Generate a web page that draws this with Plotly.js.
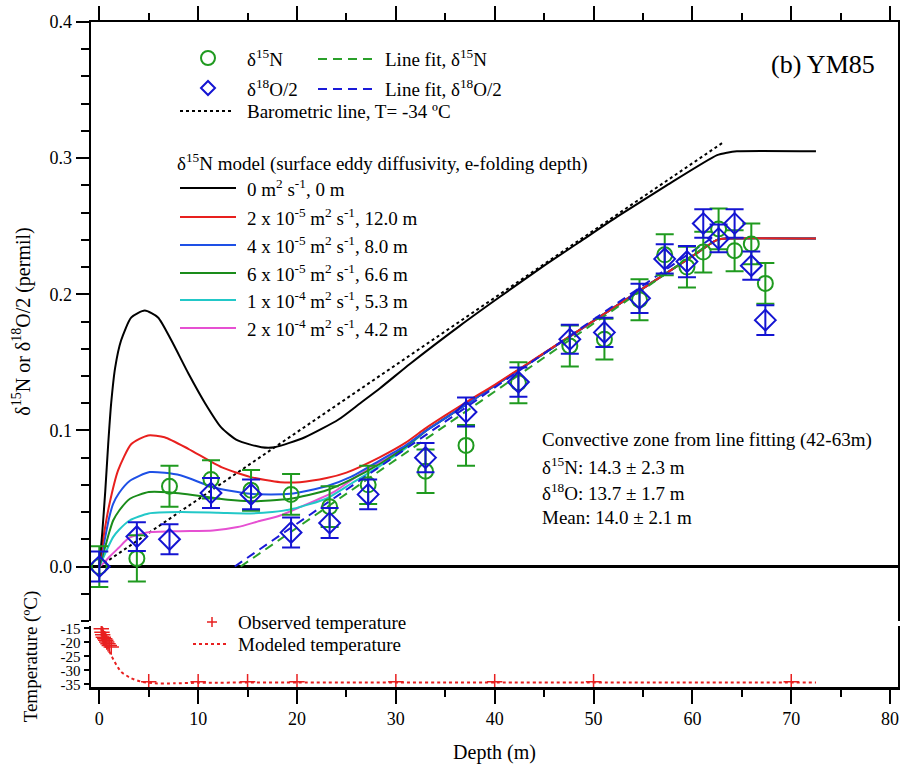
<!DOCTYPE html>
<html>
<head>
<meta charset="utf-8">
<script src="https://cdn.plot.ly/plotly-3.0.1.min.js"></script>
<style>html,body{margin:0;padding:0;background:#fff;}</style>
</head>
<body>
<div id="chart" style="width:900px;height:764px;"></div>
<script>
// ---------------- DATA ----------------
// Observed δ15N (permil)
const depthN15 = [0, 3.8, 7.1, 11.3, 15.35, 19.4, 23.3, 27.2, 33.0, 37.1, 42.4, 47.6, 51.1, 54.65, 57.2, 59.45, 61.1, 62.65, 64.27, 65.96, 67.38];
const valN15   = [0.0, 0.006, 0.059, 0.064, 0.056, 0.053, 0.044, 0.060, 0.070, 0.089, 0.135, 0.162, 0.167, 0.196, 0.229, 0.220, 0.231, 0.248, 0.232, 0.237, 0.208];
const errN15   = [0.015, 0.017, 0.015, 0.014, 0.015, 0.015, 0.015, 0.014, 0.016, 0.015, 0.015, 0.015, 0.015, 0.015, 0.015, 0.015, 0.015, 0.015, 0.015, 0.015, 0.015];
// Observed δ18O/2 (permil)
const depthO18 = [0, 3.8, 7.1, 11.3, 15.35, 19.4, 23.3, 27.2, 33.0, 37.1, 42.4, 47.6, 51.1, 54.65, 57.2, 59.45, 61.1, 62.65, 64.27, 65.96, 67.38];
const valO18   = [0.0, 0.022, 0.020, 0.054, 0.053, 0.025, 0.032, 0.053, 0.080, 0.1135, 0.1355, 0.167, 0.172, 0.197, 0.226, 0.224, 0.252, 0.241, 0.252, 0.221, 0.181];
const errO18   = [0.011, 0.0105, 0.011, 0.011, 0.011, 0.011, 0.011, 0.011, 0.0107, 0.0107, 0.0107, 0.0107, 0.0107, 0.0107, 0.0107, 0.0115, 0.0104, 0.0102, 0.0104, 0.0104, 0.011];

// Line fits
const fitDepthN15 = [14.3, 62.0];
const fitValN15   = [0.0, 0.2385];
const fitDepthO18 = [13.7, 62.0];
const fitValO18   = [0.0, 0.2415];

// Barometric line T = -34 °C
const baroDepth = [0, 63];
const baroVal   = [0, 0.311];

// δ15N model curves
const mDepth0 = [0, 0.3, 0.6, 0.9, 1.2, 1.6, 2.2, 3.24, 4.6, 5.94, 7.3, 9.0, 10.7, 12.35, 14.0, 16.4, 17.75, 20.8, 24.2, 26.4, 28.4, 31.45, 36.5, 40.5, 45, 48.5, 52.4, 57.4, 62.5, 63.5, 64.5, 72.5];
const mVal0   = [0, 0.025, 0.055, 0.09, 0.12, 0.146, 0.166, 0.183, 0.188, 0.183, 0.166, 0.142, 0.120, 0.102, 0.0926, 0.0877, 0.0877, 0.095, 0.108, 0.120, 0.131, 0.149, 0.177, 0.198, 0.221, 0.238, 0.257, 0.280, 0.3022, 0.304, 0.305, 0.305];

const mDepth1 = [0, 0.5, 1, 1.9, 3.24, 4.93, 6.6, 9, 12.35, 15.3, 18.3, 20.3, 23, 25, 28.4, 31, 33, 35, 37.5, 40, 45, 50, 55, 60, 62.5, 63.5, 72.5];
const mVal1   = [0, 0.025, 0.045, 0.0706, 0.090, 0.0963, 0.095, 0.0865, 0.073, 0.0657, 0.062, 0.062, 0.065, 0.069, 0.0804, 0.091, 0.1015, 0.111, 0.1225, 0.1335, 0.157, 0.1804, 0.2043, 0.228, 0.240, 0.241, 0.241];

const mDepth2 = [0, 0.5, 1, 1.4, 2, 3.1, 5.1, 8.2, 11.5, 15.3, 19.3, 23, 25.5, 28.4, 31, 33, 35, 37.5, 40, 45, 50, 55, 60, 62.5, 63.5, 72.5];
const mVal2   = [0, 0.018, 0.036, 0.046, 0.054, 0.063, 0.0694, 0.067, 0.0583, 0.0534, 0.0534, 0.059, 0.066, 0.078, 0.089, 0.0995, 0.109, 0.121, 0.1328, 0.1566, 0.1804, 0.2043, 0.228, 0.240, 0.241, 0.241];

const mDepth3 = [0, 0.5, 1, 1.4, 2, 3.1, 5, 7, 10, 13, 15.3, 19.3, 23, 25.5, 28.4, 31, 33, 35, 37.5, 40, 45, 50, 55, 60, 62.5, 63.5, 72.5];
const mVal3   = [0, 0.012, 0.025, 0.0338, 0.041, 0.0498, 0.0547, 0.0545, 0.052, 0.049, 0.048, 0.0498, 0.056, 0.064, 0.0755, 0.088, 0.0995, 0.109, 0.121, 0.1328, 0.1566, 0.1804, 0.2043, 0.228, 0.240, 0.241, 0.241];

const mDepth4 = [0, 0.5, 1, 1.4, 2, 3.1, 5, 8.2, 12, 15.3, 17.5, 19.6, 23, 25.5, 28.4, 31, 33, 35, 37.5, 40, 45, 50, 55, 60, 62.5, 63.5, 72.5];
const mVal4   = [0, 0.008, 0.016, 0.0216, 0.027, 0.034, 0.039, 0.040, 0.0395, 0.039, 0.040, 0.0424, 0.050, 0.061, 0.074, 0.087, 0.0995, 0.109, 0.121, 0.1328, 0.1566, 0.1804, 0.2043, 0.228, 0.240, 0.241, 0.241];

const mDepth5 = [0, 0.5, 1, 2, 3, 4.8, 8, 11.5, 14, 16, 18.3, 20.3, 23.7, 26, 28.4, 31, 33, 35, 37.5, 40, 45, 50, 55, 60, 62.5, 63.5, 72.5];
const mVal5   = [0, 0.003, 0.007, 0.014, 0.021, 0.025, 0.026, 0.0265, 0.029, 0.033, 0.0375, 0.0436, 0.0547, 0.066, 0.077, 0.088, 0.0995, 0.109, 0.121, 0.1328, 0.1566, 0.1804, 0.2043, 0.228, 0.240, 0.241, 0.241];

const modelNames = [
  '0 m<sup>2</sup> s<sup>-1</sup>, 0 m',
  '2 x 10<sup>-5</sup> m<sup>2</sup> s<sup>-1</sup>, 12.0 m',
  '4 x 10<sup>-5</sup> m<sup>2</sup> s<sup>-1</sup>, 8.0 m',
  '6 x 10<sup>-5</sup> m<sup>2</sup> s<sup>-1</sup>, 6.6 m',
  '1 x 10<sup>-4</sup> m<sup>2</sup> s<sup>-1</sup>, 5.3 m',
  '2 x 10<sup>-4</sup> m<sup>2</sup> s<sup>-1</sup>, 4.2 m'
];

// Temperature
const obsTDepth = [0.2, 0.27, 0.34, 0.41, 0.55, 0.65, 0.75, 0.88, 1.01, 1.21, 5, 10, 15, 20, 30, 40, 50, 70];
const obsTemp   = [-15.2, -16.4, -17.3, -18.2, -18.7, -19.3, -19.9, -20.5, -21.1, -21.7, -34, -34, -34, -34, -34, -34, -34, -34];
const modTDepth = [0.2, 0.6, 1.05, 1.56, 2.2, 3.24, 4.25, 5.6, 7.6, 10, 20, 40, 72.5];
const modTemp   = [-15.2, -19.3, -23.5, -27.0, -30.5, -32.8, -34.0, -34.6, -34.6, -34.4, -34.3, -34.3, -34.3];

// Tick labels
const mainYTicks = [0, 0.1, 0.2, 0.3, 0.4];
const mainYText  = ['0.0', '0.1', '0.2', '0.3', '0.4'];
const tempTicks  = [-35, -30, -25, -20, -15];
const tempText   = ['-35', '-30', '-25', '-20', '-15'];
const depthTicks = [0, 10, 20, 30, 40, 50, 60, 70, 80];

// ---------------- STYLE ----------------
const FONT = 'Liberation Serif, Times New Roman, serif';
const TXT = 19;
const cGreenPt = '#1f9a1f', cBluePt = '#1414d2';
const modelColors = ['#000000', '#e8201e', '#1e50e6', '#1a8c1a', '#22c8c8', '#e650d2'];
const cRed = '#e82020';

// plot-area pixel geometry for placing legend items
const L = 91, R = 898, T = 22, B = 687;
const fx = p => (p - L) / (R - L);
const fy = p => (B - p) / (B - T);

const traces = [];
traces.push({x: baroDepth, y: baroVal, xaxis: 'x2', yaxis: 'y', mode: 'lines',
  line: {color: '#000', width: 2, dash: 'dot'}});
const mD = [mDepth0, mDepth1, mDepth2, mDepth3, mDepth4, mDepth5];
const mV = [mVal0, mVal1, mVal2, mVal3, mVal4, mVal5];
for (let i = 5; i >= 0; i--) {
  traces.push({x: mD[i], y: mV[i], xaxis: 'x2', yaxis: 'y', mode: 'lines',
    line: {color: modelColors[i], width: 2, shape: 'spline', smoothing: 0.6}});
}
traces.push({x: fitDepthN15, y: fitValN15, xaxis: 'x2', yaxis: 'y', mode: 'lines',
  line: {color: '#2aa02a', width: 2, dash: '9px,6px'}});
traces.push({x: fitDepthO18, y: fitValO18, xaxis: 'x2', yaxis: 'y', mode: 'lines',
  line: {color: '#1a1ad8', width: 2, dash: '9px,6px'}});
traces.push({x: depthN15, y: valN15, xaxis: 'x2', yaxis: 'y', mode: 'markers',
  marker: {symbol: 'circle-open', size: 15, color: cGreenPt, line: {width: 2, color: cGreenPt}},
  error_y: {type: 'data', array: errN15, visible: true, color: cGreenPt, thickness: 2, width: 9}});
traces.push({x: depthO18, y: valO18, xaxis: 'x2', yaxis: 'y', mode: 'markers',
  marker: {symbol: 'diamond-open', size: 16, color: cBluePt, line: {width: 2, color: cBluePt}},
  error_y: {type: 'data', array: errO18, visible: true, color: cBluePt, thickness: 2, width: 9}});
traces.push({x: modTDepth, y: modTemp, xaxis: 'x', yaxis: 'y2', mode: 'lines',
  line: {color: cRed, width: 2, dash: 'dot', shape: 'spline', smoothing: 0.6}});
traces.push({x: obsTDepth, y: obsTemp, xaxis: 'x', yaxis: 'y2', mode: 'markers',
  marker: {symbol: 'cross-thin-open', size: 11, color: cRed, line: {width: 1.5, color: cRed}}});

const ann = [];
const shapes = [];
function txt(x, y, text, size, anchor) {
  ann.push({xref: 'paper', yref: 'paper', x: fx(x), y: fy(y), xanchor: anchor || 'left', yanchor: 'middle',
    text: text, showarrow: false, font: {family: FONT, size: size || TXT, color: '#000'}});
}
function hline(x0, x1, y, color, dash) {
  shapes.push({type: 'line', xref: 'paper', yref: 'paper', x0: fx(x0), x1: fx(x1), y0: fy(y), y1: fy(y),
    line: {color: color, width: 2, dash: dash || 'solid'}});
}
shapes.push({type: 'circle', xref: 'paper', yref: 'paper', xsizemode: 'pixel', ysizemode: 'pixel',
  xanchor: fx(208), yanchor: fy(58), x0: -7, x1: 7, y0: -7, y1: 7, line: {color: cGreenPt, width: 2}});
shapes.push({type: 'path', xref: 'paper', yref: 'paper', xsizemode: 'pixel', ysizemode: 'pixel',
  xanchor: fx(208), yanchor: fy(88), path: 'M0,-7 L7,0 L0,7 L-7,0 Z', line: {color: cBluePt, width: 2}});
txt(245, 58, 'δ<sup>15</sup>N');
txt(245, 88, 'δ<sup>18</sup>O/2');
hline(318, 376, 59, '#2aa02a', '9px,6px');
hline(318, 376, 89, '#1a1ad8', '9px,6px');
txt(383, 58, 'Line fit, δ<sup>15</sup>N');
txt(383, 88, 'Line fit, δ<sup>18</sup>O/2');
hline(180, 234, 111, '#000', 'dot');
txt(245, 111, 'Barometric line, T= -34 ºC');
txt(175, 162, 'δ<sup>15</sup>N model (surface eddy diffusivity, e-folding depth)');
const legY = [188, 217, 245, 273, 300, 328];
for (let i = 0; i < 6; i++) {
  hline(180, 236, legY[i], modelColors[i]);
  txt(245, legY[i], modelNames[i]);
}
txt(769, 65, '(b) YM85', 26);
txt(540, 440, 'Convective zone from line fitting (42-63m)');
txt(540, 466, 'δ<sup>15</sup>N: 14.3 ± 2.3 m');
txt(540, 492, 'δ<sup>18</sup>O: 13.7 ± 1.7 m');
txt(540, 517, 'Mean: 14.0 ± 2.1 m');
shapes.push({type: 'path', xref: 'paper', yref: 'paper', xsizemode: 'pixel', ysizemode: 'pixel',
  xanchor: fx(212), yanchor: fy(622), path: 'M-5,0 L5,0 M0,-5 L0,5', line: {color: cRed, width: 1.5}});
txt(236, 622, 'Observed temperature');
hline(193, 228, 644, cRed, 'dot');
txt(236, 644, 'Modeled temperature');

const axBase = {showline: true, linecolor: '#000', linewidth: 2.5, ticks: 'outside', tickcolor: '#000',
  tickwidth: 2, showgrid: false, zeroline: false, tickfont: {family: FONT, size: 18, color: '#000'}};

const layout = {
  width: 900, height: 764,
  margin: {l: L, r: 900 - R, t: T, b: 764 - B},
  paper_bgcolor: '#fff', plot_bgcolor: '#fff',
  font: {family: FONT, size: 18, color: '#000'},
  showlegend: false,
  xaxis: Object.assign({}, axBase, {domain: [0, 1], anchor: 'y2', range: [-0.84, 80.8],
    tickvals: depthTicks, ticklen: 14,
    minor: {dtick: 5, tick0: 0, ticks: 'outside', ticklen: 7, tickwidth: 2, tickcolor: '#000', showgrid: false},
    title: {text: 'Depth (m)', font: {family: FONT, size: 20}, standoff: 18}}),
  xaxis2: Object.assign({}, axBase, {matches: 'x', anchor: 'y', side: 'top', showticklabels: false,
    tickvals: depthTicks, ticklen: 14,
    minor: {dtick: 5, tick0: 0, ticks: 'outside', ticklen: 7, tickwidth: 2, tickcolor: '#000', showgrid: false}}),
  yaxis: Object.assign({}, axBase, {domain: [(B - 621) / (B - T), 1], anchor: 'x2', range: [-0.04, 0.4],
    tickvals: mainYTicks, ticktext: mainYText, ticklen: 13, mirror: true,
    zeroline: true, zerolinecolor: '#000', zerolinewidth: 2.5,
    minor: {dtick: 0.02, tick0: 0, ticks: 'outside', ticklen: 8, tickwidth: 2, tickcolor: '#000', showgrid: false},
    title: {text: 'δ<sup>15</sup>N or δ<sup>18</sup>O/2 (permil)', font: {family: FONT, size: 20}, standoff: 14}}),
  yaxis2: Object.assign({}, axBase, {domain: [0, (B - 626) / (B - T)], anchor: 'x', range: [-35.9, -14.2],
    tickvals: tempTicks, ticktext: tempText, ticklen: 5, mirror: true,
    tickfont: {family: FONT, size: 15, color: '#000'},
    title: {text: 'Temperature (ºC)', font: {family: FONT, size: 19}, standoff: 18}}),
  annotations: ann,
  shapes: shapes
};

Plotly.newPlot('chart', traces, layout, {displayModeBar: false, staticPlot: true});
</script>
</body>
</html>
